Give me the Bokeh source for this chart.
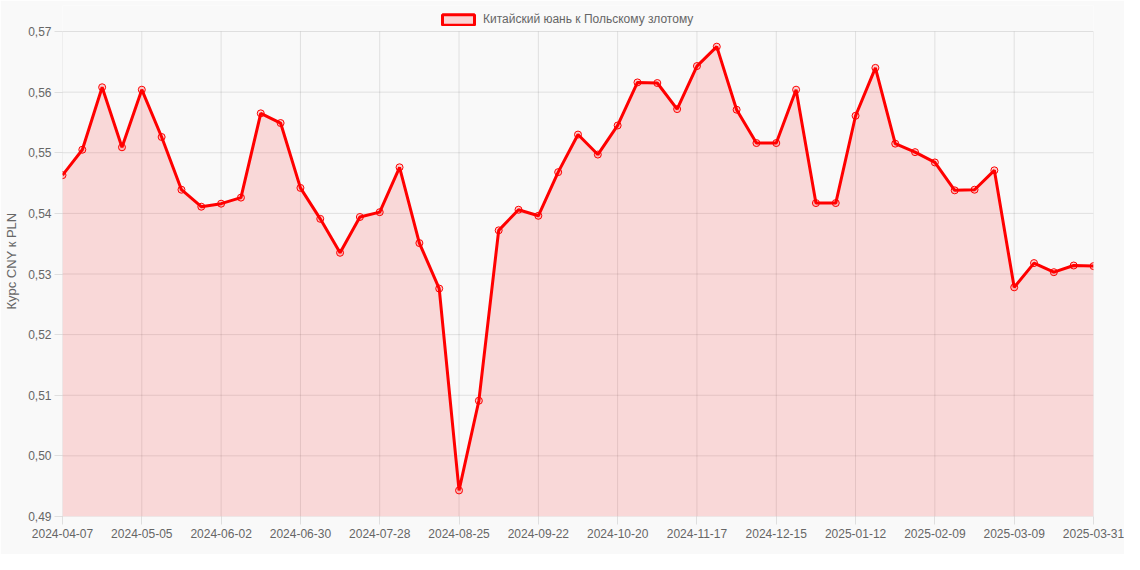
from bokeh.plotting import figure
from bokeh.models import (ColumnDataSource, Range1d, FixedTicker,
                          CustomJSTickFormatter, Legend, LegendItem)
from bokeh.embed import file_html
from bokeh.resources import INLINE

# weekly CNY/PLN rate, one point per category label
dates = [
    "2024-04-07", "2024-04-14", "2024-04-21", "2024-04-28", "2024-05-05",
    "2024-05-12", "2024-05-19", "2024-05-26", "2024-06-02", "2024-06-09",
    "2024-06-16", "2024-06-23", "2024-06-30", "2024-07-07", "2024-07-14",
    "2024-07-21", "2024-07-28", "2024-08-04", "2024-08-11", "2024-08-18",
    "2024-08-25", "2024-09-01", "2024-09-08", "2024-09-15", "2024-09-22",
    "2024-09-29", "2024-10-06", "2024-10-13", "2024-10-20", "2024-10-27",
    "2024-11-03", "2024-11-10", "2024-11-17", "2024-11-24", "2024-12-01",
    "2024-12-08", "2024-12-15", "2024-12-22", "2024-12-29", "2025-01-05",
    "2025-01-12", "2025-01-19", "2025-01-26", "2025-02-02", "2025-02-09",
    "2025-02-16", "2025-02-23", "2025-03-02", "2025-03-09", "2025-03-16",
    "2025-03-23", "2025-03-30", "2025-03-31",
]
rates = [
    0.5463, 0.5505, 0.5608, 0.5509, 0.5604, 0.5526, 0.5439, 0.5411, 0.5416,
    0.5426, 0.5565, 0.5549, 0.5442, 0.5391, 0.5335, 0.5394, 0.5402, 0.5476,
    0.5351, 0.5276, 0.4943, 0.5091, 0.5372, 0.5406, 0.5396, 0.5468, 0.5530,
    0.5497, 0.5545, 0.5616, 0.5615, 0.5572, 0.5643, 0.5675, 0.5571, 0.5516,
    0.5516, 0.5604, 0.5417, 0.5417, 0.5561, 0.5640, 0.5515, 0.5501, 0.5484,
    0.5438, 0.5439, 0.5471, 0.5278, 0.5318, 0.5303, 0.5314, 0.5313,
]
y_ticks = [0.49, 0.50, 0.51, 0.52, 0.53, 0.54, 0.55, 0.56, 0.57]
label_every = 4

FONT = "Liberation Sans"
TEXT = "#666666"
GRID = "rgba(0,0,0,0.1)"
BG = "#f9f9f9"

W, H = 1124, 554
LEFT, RIGHT, TOP, BOTTOM = 62, 31, 5, 38
LEGEND_STRIP = 26   # px above the top tick kept free for the legend

idx = list(range(len(dates)))
x_ticks = idx[::label_every]
if x_ticks[-1] != idx[-1]:
    x_ticks.append(idx[-1])

# the frame is stretched upwards so the legend can sit inside it
data_px = H - TOP - BOTTOM - LEGEND_STRIP
y_span = y_ticks[-1] - y_ticks[0]
y_top = y_ticks[-1] + y_span * LEGEND_STRIP / data_px

source = ColumnDataSource(dict(x=idx, y=rates,
                               base=[y_ticks[0]] * len(idx)))

p = figure(width=W, height=H,
           output_backend="svg", toolbar_location=None,
           x_range=Range1d(idx[0], idx[-1]),
           y_range=Range1d(y_ticks[0], y_top),
           min_border_left=LEFT, min_border_right=RIGHT,
           min_border_top=TOP, min_border_bottom=BOTTOM)

p.background_fill_color = BG
p.border_fill_color = BG
p.outline_line_color = None
p.xgrid.visible = False
p.ygrid.visible = False

# grid only over the data part of the frame
p.segment(x0=[idx[0]] * len(y_ticks), x1=[idx[-1]] * len(y_ticks),
          y0=y_ticks, y1=y_ticks, line_color=GRID, line_width=1)
p.segment(x0=x_ticks, x1=x_ticks,
          y0=[y_ticks[0]] * len(x_ticks), y1=[y_ticks[-1]] * len(x_ticks),
          line_color=GRID, line_width=1)

p.varea(x='x', y1='base', y2='y', source=source,
        fill_color="red", fill_alpha=0.13)
p.line('x', 'y', source=source, line_color="red", line_width=3)
p.scatter('x', 'y', source=source, size=7, marker="circle",
          line_color="red", line_width=1,
          fill_color="red", fill_alpha=0.15)

# legend swatch: bordered box like the original (hidden renderer)
swatch = p.rect('x', 'y', width=0, height=0, source=source,
                fill_color="red", fill_alpha=0.15,
                line_color="red", line_width=3, visible=False)
legend = Legend(items=[LegendItem(label="Китайский юань к Польскому злотому",
                                  renderers=[swatch])],
                orientation="horizontal",
                location=(376, data_px + 5),
                glyph_width=40, glyph_height=13,
                label_text_font=FONT, label_text_font_size="12px",
                label_text_color=TEXT, label_standoff=5,
                padding=4, margin=0,
                border_line_color=None, background_fill_alpha=0)
p.add_layout(legend)

# axes
p.xaxis.ticker = FixedTicker(ticks=x_ticks)
p.xaxis.major_label_overrides = {i: dates[i] for i in x_ticks}
p.yaxis.ticker = FixedTicker(ticks=y_ticks)
p.yaxis.formatter = CustomJSTickFormatter(
    code="return tick.toFixed(2).replace('.', ',');")
p.yaxis.axis_label = "Курс CNY к PLN"

for ax in (p.xaxis, p.yaxis):
    ax.axis_line_color = None
    ax.major_tick_out = 8
    ax.major_tick_in = 0
    ax.major_tick_line_color = GRID
    ax.minor_tick_line_color = None
    ax.major_label_text_font = FONT
    ax.major_label_text_font_size = "12px"
    ax.major_label_text_color = TEXT
    ax.major_label_standoff = 4
    ax.axis_label_text_font = FONT
    ax.axis_label_text_font_size = "13px"
    ax.axis_label_text_font_style = "normal"
    ax.axis_label_text_color = TEXT
p.yaxis.major_label_standoff = 3
p.yaxis.axis_label_standoff = 6

html = file_html(p, INLINE)
html = html.replace("<body>", '<body style="background-color:%s">' % BG, 1)
open("out.html", "w").write(html)
